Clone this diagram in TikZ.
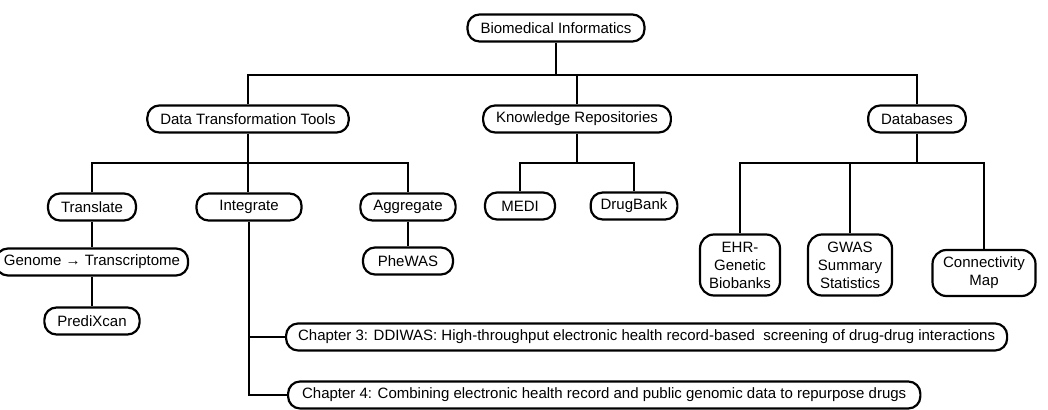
\documentclass[tikz,border=0pt]{standalone}
\usepackage{fontspec}
\setmainfont{Liberation Sans}
\usepackage{tikz}
\usetikzlibrary{positioning}

\begin{document}
\begin{tikzpicture}[x=0.5pt, y=-0.5pt, line width=1pt,
    every node/.style={font=\fontsize{7.5}{9}\selectfont},
    box/.style={draw, line width=1.1pt, rounded corners=6pt, fill=white,
                minimum height=13.5pt, inner xsep=6.5pt, inner ysep=1pt},
    stackbox/.style={box, align=center, inner xsep=3pt, rounded corners=7pt}]
    \useasboundingbox (0,0) rectangle (1048,410);

    % Top levels
    \node[box] (bi) at (556,28) {Biomedical Informatics};
    \node[box] (dtt) at (248,119) {Data Transformation Tools};
    \node[box] (kr) at (577,119) {Knowledge Repositories};
    \node[box] (db) at (917,119) {Databases};

    % Tools
    \node[box] (tr) at (92,207) {Translate};
    \node[box, minimum width=52.5pt] (ig) at (249,207) {Integrate};
    \node[box] (ag) at (408,207) {Aggregate};
    \node[box, inner xsep=4pt] (gt) at (92,262) {Genome → Transcriptome};
    \node[box] (px) at (92,321) {PrediXcan};
    \node[box, minimum width=45pt] (pw) at (408,261) {PheWAS};

    % Repositories
    \node[box, minimum width=35pt] (medi) at (520,206) {MEDI};
    \node[box, inner xsep=5pt] (dbank) at (634,206) {DrugBank};

    % Databases
    \node[stackbox, minimum width=40pt, minimum height=30.5pt] (ehr) at (740,265) {EHR-\\Genetic\\Biobanks};
    \node[stackbox, minimum width=42pt, minimum height=30.5pt] (gwas) at (850,265) {GWAS\\Summary\\Statistics};
    \node[stackbox, minimum width=51.5pt, minimum height=23pt] (cmap) at (984,273) {Connectivity\\Map};

    % Chapters
    \node[box, anchor=west, inner xsep=6pt] (ch3) at (285,337)
        {Chapter 3: DDIWAS: High-throughput electronic health record-based \ screening of drug-drug interactions};
    \node[box, anchor=west, inner xsep=7pt] (ch4) at (287,395)
        {Chapter 4: Combining electronic health record and public genomic data to repurpose drugs};

    % Links
    \coordinate (j0) at (556,75);
    \coordinate (j1) at (248,163);
    \coordinate (j2) at (577,163);
    \coordinate (j3) at (917,163);

    \draw (bi) -- (j0);
    \draw (dtt.north) |- (j0) -| (db.north);
    \draw (kr.north) -- (kr.north |- j0);

    \draw (dtt.south) -- (dtt.south |- ig.north);
    \draw (tr.north) |- (j1) -| (ag.north);
    \draw (tr) -- (gt) -- (px);
    \draw (ag) -- (pw);

    \draw (kr) -- (j2);
    \draw (medi.north) |- (j2) -| (dbank.north);

    \draw (db) -- (j3);
    \draw (ehr.north) |- (j3) -| (cmap.north);
    \draw (gwas.north) -- (gwas.north |- j3);

    \draw (ig.south) |- (ch4.west);
    \draw (ig.south |- ch3.west) -- (ch3.west);
\end{tikzpicture}
\end{document}
